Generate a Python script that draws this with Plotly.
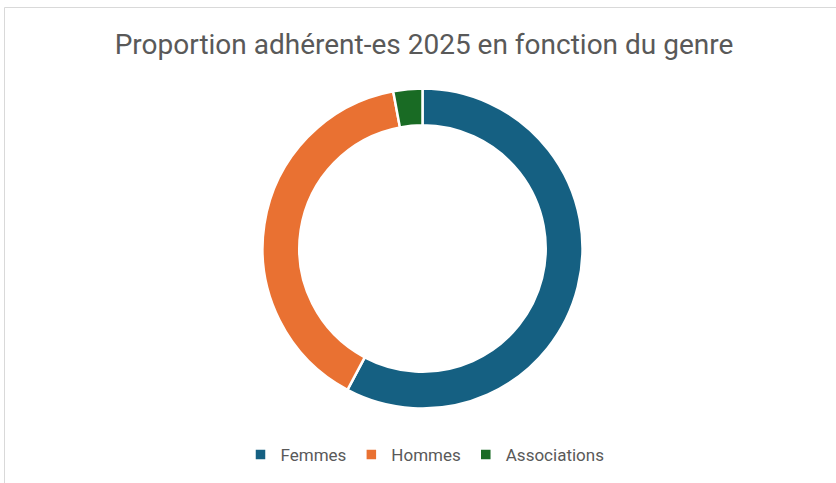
import plotly.graph_objects as go

categories = ["Femmes", "Hommes", "Associations"]
values = [197, 134, 10]
colors = ["#156082", "#E97132", "#196B24"]
title_text = "Proportion adhérent-es 2025 en fonction du genre"

W, H = 836, 483
cx, cy, r = 422.5, 248.5, 160

fig = go.Figure(go.Pie(
    labels=categories,
    values=values,
    hole=0.77,
    sort=False,
    direction="clockwise",
    rotation=0,
    textinfo="none",
    hoverinfo="label+value+percent",
    marker=dict(colors=colors, line=dict(color="white", width=2.5)),
    domain=dict(x=[(cx - r) / W, (cx + r) / W], y=[(H - cy - r) / H, (H - cy + r) / H]),
))

fig.update_layout(
    width=W, height=H,
    margin=dict(l=0, r=0, t=0, b=0),
    paper_bgcolor="white",
    plot_bgcolor="white",
    title=dict(text=title_text, x=424 / W, xanchor="center", y=1 - 44 / H, yanchor="middle",
               font=dict(family="Roboto", size=28, color="#595959")),
    showlegend=True,
    legend=dict(orientation="h", x=425 / W, xanchor="center", y=(H - 455) / H, yanchor="middle",
                font=dict(family="Roboto", size=17, color="#595959"), traceorder="normal"),
    shapes=[dict(type="rect", xref="paper", yref="paper", x0=4.5 / W, x1=1.2, y0=-0.2,
                 y1=(H - 7.5) / H,
                 line=dict(color="#D9D9D9", width=1), fillcolor="rgba(0,0,0,0)", layer="below")],
)

fig.write_html("out.html", config={"displayModeBar": False},
               post_script="document.body.style.margin='0';")
